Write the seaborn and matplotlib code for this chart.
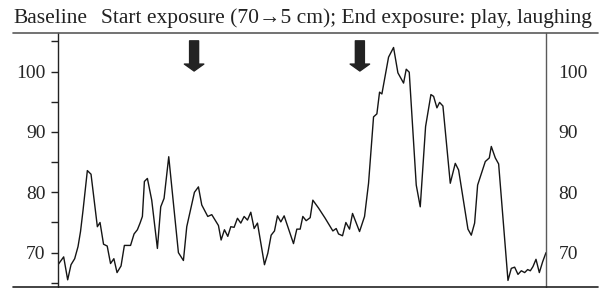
import matplotlib
matplotlib.use("Agg")
import matplotlib.pyplot as plt
import seaborn as sns
from matplotlib.lines import Line2D

# ── Data ──────────────────────────────────────────────────────────────────────
time_s = [
    0.0, 3.4, 5.8, 7.8, 10.0, 12.0, 13.5, 15.0, 17.6, 19.8,
    23.6, 25.2, 27.3, 29.5, 31.5, 33.5, 35.4, 37.8, 39.8, 43.5,
    45.6, 47.6, 49.2, 50.6, 51.8, 53.6, 56.2, 59.6, 61.6, 63.6,
    66.4, 69.2, 72.2, 75.2, 77.2, 81.8, 84.2, 86.2, 89.8, 92.2,
    96.2, 97.8, 99.8, 101.8, 103.6, 105.6, 107.6, 109.6, 111.6, 113.6,
    115.6, 117.6, 119.6, 123.8, 125.8, 127.8, 129.8, 131.6, 133.6, 135.6,
    141.2, 143.2, 145.2, 146.8, 148.8, 151.2, 152.8, 156.2, 160.2, 164.8,
    166.8, 168.2, 170.6, 172.6, 174.8, 176.6, 180.8, 183.8, 186.2, 189.2,
    191.2, 192.8, 194.2, 198.2, 201.2, 203.8, 207.2, 208.8, 210.6, 214.8,
    217.2, 220.4, 223.6, 225.2, 227.2, 228.8, 230.8, 235.2, 238.2, 240.2,
    245.8, 247.8, 249.8, 251.6, 256.2, 258.6, 259.8, 262.2, 264.2, 269.8,
    271.8, 273.8, 275.8, 277.8, 279.8, 281.6, 283.2, 284.8, 286.6, 288.6,
    290.6, 292.6,
]
heart_rate = [
    68.0, 69.3, 65.5, 68.0, 69.0, 71.0, 73.5, 77.0, 83.6, 83.0,
    74.3, 75.0, 71.4, 71.1, 68.2, 69.0, 66.7, 67.8, 71.2, 71.2,
    73.1, 73.8, 74.9, 76.0, 81.8, 82.3, 78.7, 70.7, 77.6, 79.0,
    85.9, 78.2, 70.0, 68.7, 74.3, 80.0, 80.9, 77.9, 76.0, 76.3,
    74.5, 72.1, 73.8, 72.7, 74.3, 74.2, 75.7, 74.9, 76.0, 75.4,
    76.7, 74.0, 74.9, 68.0, 69.9, 72.9, 73.6, 76.1, 75.1, 76.1,
    71.5, 73.9, 73.9, 76.0, 75.3, 75.8, 78.7, 77.4, 75.7, 73.6,
    74.0, 73.1, 72.8, 75.0, 73.9, 76.5, 73.5, 76.0, 81.5, 92.5,
    93.0, 96.6, 96.3, 102.4, 104.0, 99.8, 98.1, 100.4, 99.9, 81.2,
    77.6, 90.9, 96.2, 95.9, 94.0, 94.9, 94.3, 81.5, 84.8, 83.7,
    73.9, 72.9, 74.9, 81.2, 85.1, 85.7, 87.6, 85.7, 84.7, 65.4,
    67.4, 67.6, 66.4, 67.0, 66.7, 67.2, 67.0, 67.7, 68.9, 66.7,
    68.5, 70.0,
]
event_times = [81.6, 181.0]
major_ticks = [70, 80, 90, 100]
minor_ticks = [65, 75, 85, 95, 105]
label_baseline = "Baseline"
label_events = "Start exposure (70\u21925 cm); End exposure: play, laughing"

W, H = 608, 288
LINE_COLOR = "#151515"
RULE_COLOR = "#5a5a5a"

sns.set_style("white")
plt.rcParams["font.family"] = ["Liberation Serif", "DejaVu Serif"]

fig = plt.figure(figsize=(W / 100, H / 100), dpi=100)
ax_left, ax_right, ax_top, ax_bottom = 58, 546, 33, 286.7
ax = fig.add_axes([ax_left / W, 1 - ax_bottom / H,
                   (ax_right - ax_left) / W, (ax_bottom - ax_top) / H])

sns.lineplot(x=time_s, y=heart_rate, ax=ax, color=LINE_COLOR, linewidth=1.0)

ylim = (64.36, 106.4)
ax.set_xlim(time_s[0], time_s[-1])
ax.set_ylim(*ylim)
ax.set_xticks([])
ax.set_xlabel("")
ax.set_ylabel("")
ax.set_yticks(major_ticks)
ax.set_yticks(minor_ticks, minor=True)
ax.tick_params(axis="y", which="both", direction="out", length=5, width=1.0,
               color="#222222", left=True, right=False, labelsize=14, pad=4)
ax.tick_params(axis="y", which="minor", labelleft=False)
for side in ["top", "bottom", "right"]:
    ax.spines[side].set_visible(False)
ax.spines["left"].set_color("#222222")
ax.spines["left"].set_linewidth(1.0)

twin = ax.twinx()
twin.set_ylim(*ylim)
twin.set_yticks(major_ticks)
twin.tick_params(axis="y", length=0, labelsize=14, pad=9)
for side in ["top", "bottom", "left"]:
    twin.spines[side].set_visible(False)
twin.spines["right"].set_color(RULE_COLOR)
twin.spines["right"].set_linewidth(1.0)

# event arrows
for t in event_times:
    ax.annotate(
        "", xy=(t, 100.1), xytext=(t, 105.1),
        arrowprops=dict(arrowstyle="simple,head_length=0.5,head_width=1.4,tail_width=0.65",
                        mutation_scale=10, color="#222222", shrinkA=0, shrinkB=0),
        annotation_clip=False,
    )

# header rules spanning the whole figure
for y_px, col in [(ax_top, RULE_COLOR), (ax_bottom, "#222222")]:
    fig.add_artist(Line2D([13 / W, 598 / W], [1 - y_px / H] * 2,
                          transform=fig.transFigure, color=col, linewidth=1.2))

fig.text(13 / W, 1 - 23 / H, label_baseline, fontsize=15.5, va="baseline", color="#222222")
fig.text(101 / W, 1 - 23 / H, label_events, fontsize=15.5, va="baseline", color="#222222")

fig.savefig("out.png", dpi=100)
